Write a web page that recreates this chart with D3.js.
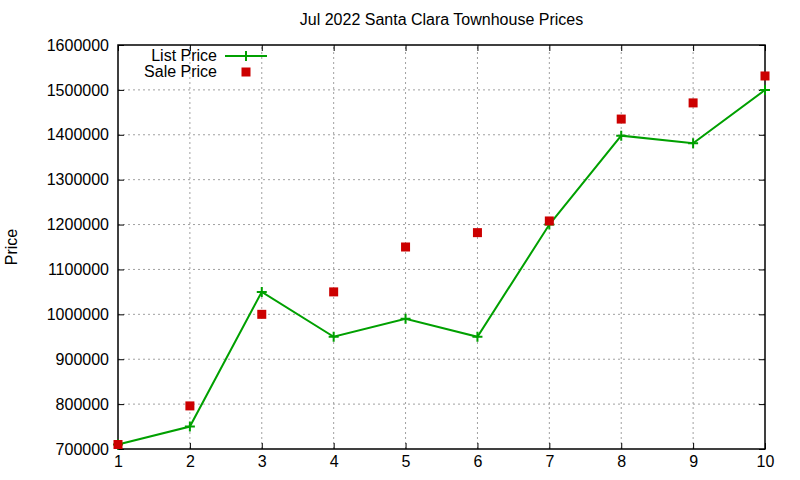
<!DOCTYPE html>
<html>
<head>
<meta charset="utf-8">
<script src="https://cdn.jsdelivr.net/npm/d3@7"></script>
<style>
  body { margin: 0; background: #fff; }
  text { font-family: "Liberation Sans", Arial, sans-serif; fill: #000; }
</style>
</head>
<body>
<script>
var width = 800, height = 480;

var months = [1, 2, 3, 4, 5, 6, 7, 8, 9, 10];
var listPrice = [710000, 750000, 1050000, 950000, 990000, 950000, 1200000, 1398000, 1381000, 1500000];
var salePrice = [710000, 796000, 1000000, 1050000, 1150000, 1182000, 1208000, 1435000, 1471000, 1531000];
var yTicks = [700000, 800000, 900000, 1000000, 1100000, 1200000, 1300000, 1400000, 1500000, 1600000];

var margin = {left: 118, right: 35, top: 45, bottom: 31};

var svg = d3.select("body")
    .append("svg")
    .attr("width", width)
    .attr("height", height);

var x = d3.scaleLinear()
    .domain([1, 10])
    .range([margin.left, width - margin.right]);

var y = d3.scaleLinear()
    .domain([700000, 1600000])
    .range([height - margin.bottom, margin.top]);

// grid
svg.append("g")
    .selectAll("line.gx")
    .data(months.slice(1, -1))
    .enter().append("line")
    .attr("x1", d => x(d)).attr("x2", d => x(d))
    .attr("y1", y.range()[0]).attr("y2", y.range()[1])
    .attr("stroke", "#a0a0a0")
    .attr("stroke-dasharray", "2,3");

svg.append("g")
    .selectAll("line.gy")
    .data(yTicks.slice(1, -1))
    .enter().append("line")
    .attr("y1", d => y(d)).attr("y2", d => y(d))
    .attr("x1", x.range()[0]).attr("x2", x.range()[1])
    .attr("stroke", "#a0a0a0")
    .attr("stroke-dasharray", "2,3");

// axes (ticks inward, mirrored)
var tickFmt = d3.format("d");
svg.append("g")
    .attr("transform", "translate(" + margin.left + ",0)")
    .call(d3.axisLeft(y).tickValues(yTicks).tickFormat(tickFmt).tickSizeInner(-6).tickSizeOuter(0).tickPadding(9))
    .call(g => g.select(".domain").remove());
svg.append("g")
    .attr("transform", "translate(" + (width - margin.right) + ",0)")
    .call(d3.axisRight(y).tickValues(yTicks).tickFormat("").tickSizeInner(-6).tickSizeOuter(0))
    .call(g => g.select(".domain").remove());
svg.append("g")
    .attr("transform", "translate(0," + (height - margin.bottom) + ")")
    .call(d3.axisBottom(x).tickValues(months).tickFormat(tickFmt).tickSizeInner(-6).tickSizeOuter(0).tickPadding(7))
    .call(g => g.select(".domain").remove());
svg.append("g")
    .attr("transform", "translate(0," + margin.top + ")")
    .call(d3.axisTop(x).tickValues(months).tickFormat("").tickSizeInner(-6).tickSizeOuter(0))
    .call(g => g.select(".domain").remove());

svg.selectAll(".tick text")
    .style("font-family", "'Liberation Sans', Arial, sans-serif")
    .style("font-size", "16px")
    .attr("fill", "#000");
svg.selectAll(".tick line").attr("stroke", "#000");

// border
svg.append("rect")
    .attr("x", x.range()[0]).attr("y", y.range()[1])
    .attr("width", x.range()[1] - x.range()[0])
    .attr("height", y.range()[0] - y.range()[1])
    .attr("fill", "none")
    .attr("stroke", "#000")
    .attr("stroke-width", 1.5);

// list price line
var line = d3.line()
    .x((d, i) => x(months[i]))
    .y(d => y(d));

svg.append("path")
    .datum(listPrice)
    .attr("d", line)
    .attr("fill", "none")
    .attr("stroke", "#00a000")
    .attr("stroke-width", 2);

svg.append("g")
    .selectAll("path")
    .data(listPrice)
    .enter().append("path")
    .attr("d", (d, i) => "M" + (x(months[i]) - 5) + "," + y(d) + "h10M" + x(months[i]) + "," + (y(d) - 5) + "v10")
    .attr("stroke", "#00a000")
    .attr("stroke-width", 2);

// sale price points
svg.append("g")
    .selectAll("rect")
    .data(salePrice)
    .enter().append("rect")
    .attr("x", (d, i) => x(months[i]) - 4.5)
    .attr("y", d => y(d) - 4.5)
    .attr("width", 9).attr("height", 9)
    .attr("fill", "#cc0000");

// title & labels
svg.append("text")
    .attr("x", (x.range()[0] + x.range()[1]) / 2)
    .attr("y", 25)
    .attr("text-anchor", "middle")
    .style("font-size", "16px")
    .text("Jul 2022 Santa Clara Townhouse Prices");

svg.append("text")
    .attr("transform", "translate(17," + ((y.range()[0] + y.range()[1]) / 2) + ") rotate(-90)")
    .attr("text-anchor", "middle")
    .style("font-size", "16px")
    .text("Price");

// legend
var legend = svg.append("g");
legend.append("text")
    .attr("x", 217).attr("y", 61)
    .attr("text-anchor", "end")
    .style("font-size", "16px")
    .text("List Price");
legend.append("line")
    .attr("x1", 225).attr("x2", 267)
    .attr("y1", 56).attr("y2", 56)
    .attr("stroke", "#00a000").attr("stroke-width", 2);
legend.append("path")
    .attr("d", "M" + 241 + ",56h10M246,51v10")
    .attr("stroke", "#00a000").attr("stroke-width", 2);
legend.append("text")
    .attr("x", 217).attr("y", 77)
    .attr("text-anchor", "end")
    .style("font-size", "16px")
    .text("Sale Price");
legend.append("rect")
    .attr("x", 241.5).attr("y", 67.5)
    .attr("width", 9).attr("height", 9)
    .attr("fill", "#cc0000");
</script>
</body>
</html>
